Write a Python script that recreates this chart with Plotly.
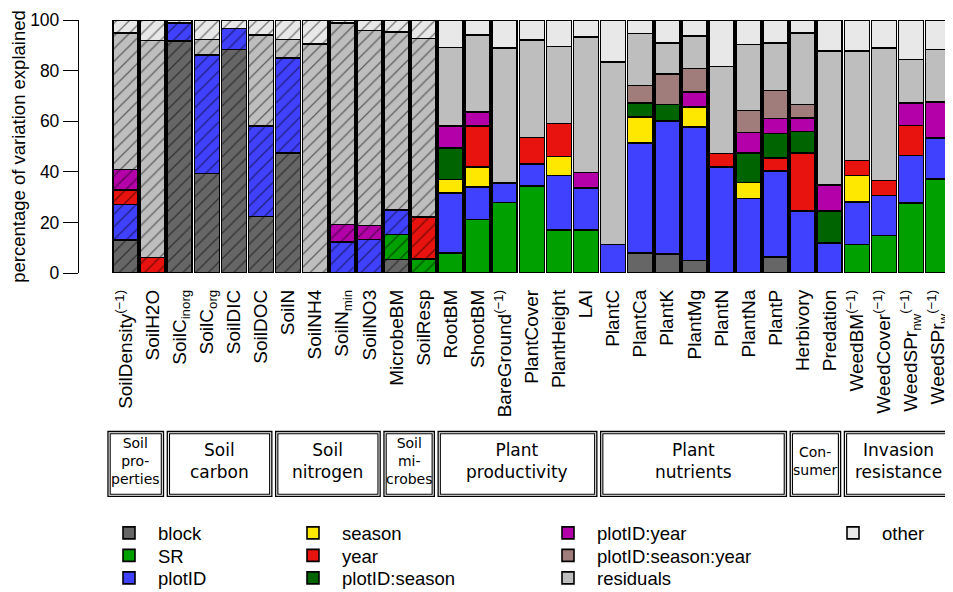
import plotly.graph_objects as go

# ---------------- data ----------------
variables = ["SoilDensity", "SoilH2O", "SoilCinorg", "SoilCorg", "SoilDIC", "SoilDOC",
             "SoilN", "SoilNH4", "SoilNmin", "SoilNO3", "MicrobeBM", "SoilResp",
             "RootBM", "ShootBM", "BareGround", "PlantCover", "PlantHeight", "LAI",
             "PlantC", "PlantCa", "PlantK", "PlantMg", "PlantN", "PlantNa", "PlantP",
             "Herbivory", "Predation", "WeedBM", "WeedCover", "WeedSPr_nw", "WeedSPr_w"]

tick_labels = ["SoilDensity<sup>(−1)</sup>", "SoilH2O", "SoilC<sub>inorg</sub>", "SoilC<sub>org</sub>",
               "SoilDIC", "SoilDOC", "SoilN", "SoilNH4", "SoilN<sub>min</sub>", "SoilNO3",
               "MicrobeBM", "SoilResp", "RootBM", "ShootBM", "BareGround<sup>(−1)</sup>",
               "PlantCover", "PlantHeight", "LAI", "PlantC", "PlantCa", "PlantK", "PlantMg",
               "PlantN", "PlantNa", "PlantP", "Herbivory", "Predation",
               "WeedBM<sup>(−1)</sup>", "WeedCover<sup>(−1)</sup>",
               "WeedSPr<sub>nw</sub><sup>(−1)</sup>", "WeedSPr<sub>w</sub><sup>(−1)</sup>"]

n_soil = 12  # soil variables are drawn hatched

block = [13.0, 0, 91.6, 39.3, 88.3, 22.4, 47.5, 0, 0, 0, 5.3, 0,
         0, 0, 0, 0, 0, 0,
         0, 7.9, 7.5, 5.0, 0, 0, 6.3,
         0, 0,
         0, 0, 0, 0]
SR = [0, 0, 0, 0, 0, 0, 0, 0, 0, 0, 9.9, 5.5,
      7.9, 21.1, 27.9, 34.3, 16.9, 17.1,
      0, 0, 0, 0, 0, 0, 0,
      0, 0,
      11.2, 14.9, 27.7, 37.2]
plotID = [14.0, 0, 7.3, 46.8, 8.3, 35.6, 37.5, 0, 12.3, 13.2, 9.8, 0,
          23.7, 12.9, 7.7, 8.8, 21.7, 16.5,
          11.2, 43.5, 52.5, 52.6, 41.8, 29.4, 33.9,
          24.6, 11.9,
          16.9, 15.7, 18.8, 16.2]
season = [0, 0, 0, 0, 0, 0, 0, 0, 0, 0, 0, 0,
          5.3, 7.8, 0, 0, 7.5, 0,
          0, 10.2, 0, 8.1, 0, 6.4, 0,
          0, 0,
          10.5, 0, 0, 0]
year = [5.7, 6.2, 0, 0, 0, 0, 0, 0, 0, 0, 0, 16.6,
        0, 16.2, 0, 10.5, 13.0, 0,
        0, 0, 0, 0, 5.4, 0, 5.3,
        22.9, 0,
        5.8, 5.9, 11.8, 0]
plotID_season = [0, 0, 0, 0, 0, 0, 0, 0, 0, 0, 0, 0,
                 12.5, 0, 0, 0, 0, 0,
                 0, 5.6, 6.6, 0, 0, 11.7, 9.6,
                 8.5, 12.5,
                 0, 0, 0, 0]
plotID_year = [8.2, 0, 0, 0, 0, 0, 0, 0, 6.8, 5.5, 0, 0,
               8.6, 5.7, 0, 0, 0, 6.2,
               0, 0, 0, 5.9, 0, 8.1, 5.9,
               5.3, 10.5,
               0, 0, 8.9, 14.1]
plotID_season_year = [0, 0, 0, 0, 0, 0, 0, 0, 0, 0, 0, 0,
                      0, 0, 0, 0, 0, 0,
                      0, 6.9, 12.1, 9.2, 0, 8.7, 11.2,
                      5.3, 0,
                      0, 0, 0, 0]
residuals = [54.0, 85.7, 0, 6.2, 0, 36.0, 7.3, 90.6, 79.8, 77.1, 70.2, 70.6,
             31.2, 30.3, 53.4, 38.4, 30.5, 53.4,
             72.3, 20.6, 12.3, 12.8, 34.5, 26.0, 18.8,
             28.3, 52.8,
             43.3, 52.5, 17.2, 20.8]
other = [5.1, 8.1, 1.1, 7.7, 3.4, 6.0, 7.7, 9.4, 1.1, 4.2, 4.8, 7.3,
         10.8, 6.0, 11.0, 8.0, 10.4, 6.8,
         16.5, 5.3, 9.0, 6.4, 18.3, 9.7, 9.0,
         5.1, 12.3,
         12.3, 11.0, 15.6, 11.7]

component_names = ["block", "SR", "plotID", "season", "year", "plotID:season",
                   "plotID:year", "plotID:season:year", "residuals", "other"]
component_values = [block, SR, plotID, season, year, plotID_season,
                    plotID_year, plotID_season_year, residuals, other]
component_colors = ["#666666", "#00A000", "#4040FF", "#FFE800", "#E8130E", "#006400",
                    "#B400A8", "#A07D7A", "#BEBEBE", "#E8E8E8"]

group_labels = ["Soil<br>pro-<br>perties", "Soil<br>carbon", "Soil<br>nitrogen",
                "Soil<br>mi-<br>crobes", "Plant<br>productivity", "Plant<br>nutrients",
                "Con-<br>sumer", "Invasion<br>resistance"]
group_start = [0, 2, 6, 10, 12, 18, 25, 27]
group_end = [1, 5, 9, 11, 17, 24, 26, 30]
group_small = [True, False, False, True, False, False, True, False]

# ---------------- style / layout constants ----------------
PAGE_OFF = 8                       # browser body margin
W, H = 953 - PAGE_OFF, 592 - PAGE_OFF
# plot-area edges in page pixels
L_PX, R_PX, T_PX, B_PX = 79, 953, 20, 273.3
XR = [-1.72, 30.55]
FONT = "Liberation Sans, Arial, sans-serif"
BOXFONT = "DejaVu Sans, Verdana, sans-serif"


def py2paper(py):
    return (B_PX - py) / (B_PX - T_PX)


def px2paper(px):
    return (px - L_PX) / (R_PX - L_PX)


fig = go.Figure()

legend_cols_px = [129, 313, 568, 853]
legend_rows_px = [534, 556.5, 579]
legend_pos = [(0, 0), (0, 1), (0, 2), (1, 0), (1, 1), (1, 2), (2, 0), (2, 1), (2, 2), (3, 0)]

for k, (name, vals, col) in enumerate(zip(component_names, component_values, component_colors)):
    lid = "legend" if k == 0 else f"legend{k + 1}"
    fig.add_trace(go.Bar(
        x=variables[:n_soil], y=[v if v else None for v in vals[:n_soil]],
        name=name, showlegend=False, legend=lid,
        marker=dict(color=col, line=dict(color="black", width=1.6),
                    pattern=dict(shape="/", fgcolor="black", bgcolor=col,
                                 size=9, solidity=0.14)),
        hoverinfo="skip"))
    fig.add_trace(go.Bar(
        x=variables[n_soil:], y=[v if v else None for v in vals[n_soil:]],
        name=name, showlegend=True, legend=lid,
        marker=dict(color=col, line=dict(color="black", width=1.6)),
        hoverinfo="skip"))

legends = {}
for k in range(len(component_names)):
    lid = "legend" if k == 0 else f"legend{k + 1}"
    c, r = legend_pos[k]
    legends[lid] = dict(
        x=px2paper(legend_cols_px[c] - 29), y=py2paper(legend_rows_px[r]),
        xanchor="left", yanchor="middle", bgcolor="rgba(0,0,0,0)", borderwidth=0,
        itemwidth=48, font=dict(family=FONT, size=18.5, color="black"),
        itemclick=False, itemdoubleclick=False)

shapes = []
annotations = []
box_top, box_bot = py2paper(432), py2paper(497)
inset_x, inset_y = 2.2 / 27.08, 2.2 / (B_PX - T_PX)
for i, (lab, s, e, small) in enumerate(zip(group_labels, group_start, group_end, group_small)):
    x0 = s - 0.5 + 0.04 if i > 0 else -0.65
    x1 = e + 0.5 - 0.10 if i < len(group_labels) - 1 else 30.52
    shapes.append(dict(type="rect", xref="x", yref="paper", x0=x0, x1=x1,
                       y0=box_bot, y1=box_top, line=dict(color="black", width=1.3)))
    shapes.append(dict(type="rect", xref="x", yref="paper", x0=x0 + inset_x, x1=x1 - inset_x,
                       y0=box_bot + inset_y, y1=box_top - inset_y,
                       line=dict(color="black", width=1.1)))
    annotations.append(dict(x=(x0 + x1) / 2, y=py2paper(462), xref="x", yref="paper",
                            text=lab, showarrow=False, xanchor="center", yanchor="middle",
                            font=dict(family=BOXFONT, size=14 if small else 17, color="black")))

fig.update_layout(
    width=W, height=H,
    margin=dict(l=L_PX - PAGE_OFF, r=(953 - R_PX), t=T_PX - PAGE_OFF,
                b=(592 - PAGE_OFF) - (B_PX - PAGE_OFF), autoexpand=False),
    paper_bgcolor="white", plot_bgcolor="white",
    barmode="stack", bargap=0.075,
    showlegend=True,
    shapes=shapes, annotations=annotations,
    font=dict(family=FONT, color="black"),
    **legends,
)

fig.update_xaxes(
    type="category", categoryorder="array", categoryarray=variables,
    tickmode="array", tickvals=variables, ticktext=tick_labels,
    tickangle=-90, tickfont=dict(family=FONT, size=19, color="black"),
    range=XR, showline=False, showgrid=False, zeroline=False, ticks="",
    ticklabelstandoff=12,
)
fig.update_yaxes(
    range=[0, 100], tickvals=[0, 20, 40, 60, 80, 100],
    showline=True, linecolor="black", linewidth=1.3,
    ticks="outside", ticklen=15, tickwidth=1.3, tickcolor="black",
    tickfont=dict(family=FONT, size=17.5, color="black"),
    showgrid=False, zeroline=False,
    title=dict(text="percentage of variation explained",
               font=dict(family=FONT, size=18.5, color="black"), standoff=4),
)

fig.write_html("out.html")
